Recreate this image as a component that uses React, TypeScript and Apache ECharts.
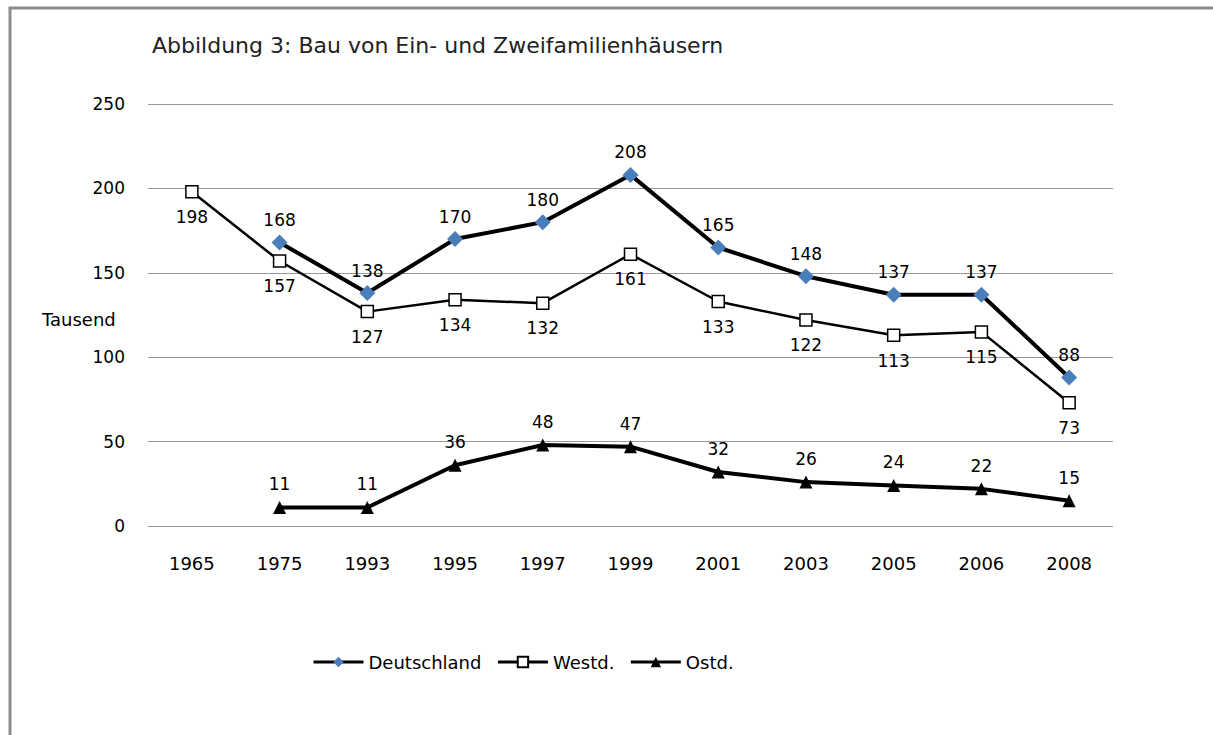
import React, { useEffect, useRef } from "react";
import * as echarts from "echarts";

const categories = ["1965", "1975", "1993", "1995", "1997", "1999", "2001", "2003", "2005", "2006", "2008"];
const deutschland = [null, 168, 138, 170, 180, 208, 165, 148, 137, 137, 88];
const westd = [198, 157, 127, 134, 132, 161, 133, 122, 113, 115, 73];
const ostd = [null, 11, 11, 36, 48, 47, 32, 26, 24, 22, 15];
const titleText = "Abbildung 3: Bau von Ein- und Zweifamilienhäusern";
const yAxisName = "Tausend";

const FONT = "DejaVu Sans";

export default function App() {
  const ref = useRef<HTMLDivElement>(null);
  useEffect(() => {
    if (!ref.current) return;
    const chart = echarts.init(ref.current, undefined, { renderer: "svg" });
    const labelStyle = { fontFamily: FONT, fontSize: 17, color: "#000" };
    chart.setOption({
      animation: false,
      backgroundColor: "#fff",
      textStyle: { fontFamily: FONT },
      graphic: [
        {
          type: "rect",
          shape: { x: 10, y: 8, width: 1300, height: 800 },
          style: { fill: "none", stroke: "#8c8c8c", lineWidth: 3 },
          silent: true,
        },
        {
          type: "text",
          left: 152,
          top: 34,
          style: { text: titleText, font: `22px "${FONT}"`, fill: "#222" },
        },
        {
          type: "text",
          left: 42,
          top: 310,
          style: { text: yAxisName, font: `18px "${FONT}"`, fill: "#000" },
        },
      ],
      legend: {
        left: 307,
        top: 648,
        itemWidth: 50,
        itemHeight: 13,
        itemGap: 15,
        textStyle: { fontFamily: FONT, fontSize: 18, color: "#000" },
        data: [
          { name: "Deutschland", lineStyle: { width: 3, color: "#000" } },
          { name: "Westd.", lineStyle: { width: 3, color: "#000" } },
          { name: "Ostd.", lineStyle: { width: 3, color: "#000" } },
        ],
      },
      grid: { left: 148, right: 100, top: 104, bottom: 209 },
      xAxis: {
        type: "category",
        data: categories,
        boundaryGap: true,
        axisLine: { show: false },
        axisTick: { show: false },
        axisLabel: { ...labelStyle, fontSize: 18, margin: 28 },
      },
      yAxis: {
        type: "value",
        min: 0,
        max: 250,
        interval: 50,
        axisLine: { show: false },
        axisTick: { show: false },
        axisLabel: { ...labelStyle, margin: 23 },
        splitLine: { lineStyle: { color: "#999", width: 1 } },
      },
      series: [
        {
          name: "Westd.",
          type: "line",
          data: westd,
          symbol: "rect",
          symbolSize: 12,
          lineStyle: { color: "#000", width: 2.5 },
          itemStyle: { color: "#fff", borderColor: "#000", borderWidth: 1.5 },
          label: { show: true, position: "bottom", distance: 10, ...labelStyle },
          z: 2,
        },
        {
          name: "Deutschland",
          type: "line",
          data: deutschland,
          symbol: "diamond",
          symbolSize: 16,
          lineStyle: { color: "#000", width: 4 },
          itemStyle: { color: "#4a7ebb", borderWidth: 0 },
          label: { show: true, position: "top", distance: 6, ...labelStyle },
          z: 3,
        },
        {
          name: "Ostd.",
          type: "line",
          data: ostd,
          symbol: "triangle",
          symbolSize: 13,
          lineStyle: { color: "#000", width: 4 },
          itemStyle: { color: "#000", borderWidth: 0 },
          label: { show: true, position: "top", distance: 8, ...labelStyle },
          z: 3,
        },
      ],
    });
    return () => chart.dispose();
  }, []);
  return (
    <div
      ref={ref}
      style={{ position: "absolute", left: 0, top: 0, width: 1213, height: 735 }}
    />
  );
}
